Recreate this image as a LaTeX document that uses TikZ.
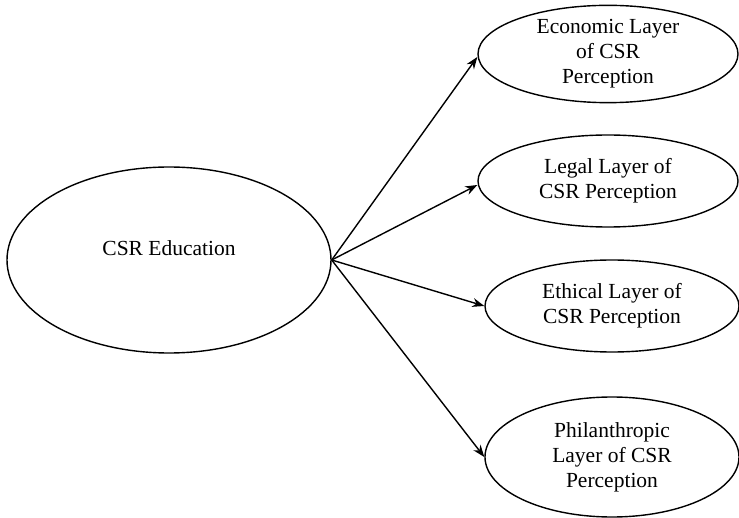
\documentclass[tikz,border=0pt]{standalone}
\usepackage{fontspec}
\setmainfont{Liberation Serif}
\usetikzlibrary{arrows.meta, shapes.geometric, positioning}

\begin{document}
\begin{tikzpicture}[x=1pt, y=-1pt,
  layer/.style={ellipse, draw, line width=1.4pt, minimum width=260pt,
                minimum height=92pt, align=center, inner sep=0pt,
                font=\fontsize{21.5pt}{25pt}\selectfont},
  flow/.style={-{Stealth[length=12pt,width=9pt]}, line width=1.4pt}]
  \useasboundingbox (0,0) rectangle (739,518);
  \node[ellipse, draw, line width=1.4pt, minimum width=324pt, minimum height=186pt,
        label={[yshift=12pt, font=\fontsize{21.5pt}{25pt}\selectfont]center:CSR Education}]
        (edu) at (169,260) {};
  \node[layer] (econ) at (608,54)  {Economic Layer\\of CSR\\Perception};
  \node[layer] (legal) at (608,181) {Legal Layer of\\CSR Perception};
  \node[layer, minimum width=254pt] (eth) at (612,306) {Ethical Layer of\\CSR Perception};
  \node[layer, minimum width=254pt, minimum height=120pt] (phil) at (612,457)
        {Philanthropic\\Layer of CSR\\Perception};
  \draw[flow] (edu.east) -- (econ.west |- 0,57);
  \draw[flow] (edu.east) -- (legal.west |- 0,185);
  \draw[flow] (edu.east) -- (eth.west);
  \draw[flow] (edu.east) -- (phil.west);
\end{tikzpicture}
\end{document}
